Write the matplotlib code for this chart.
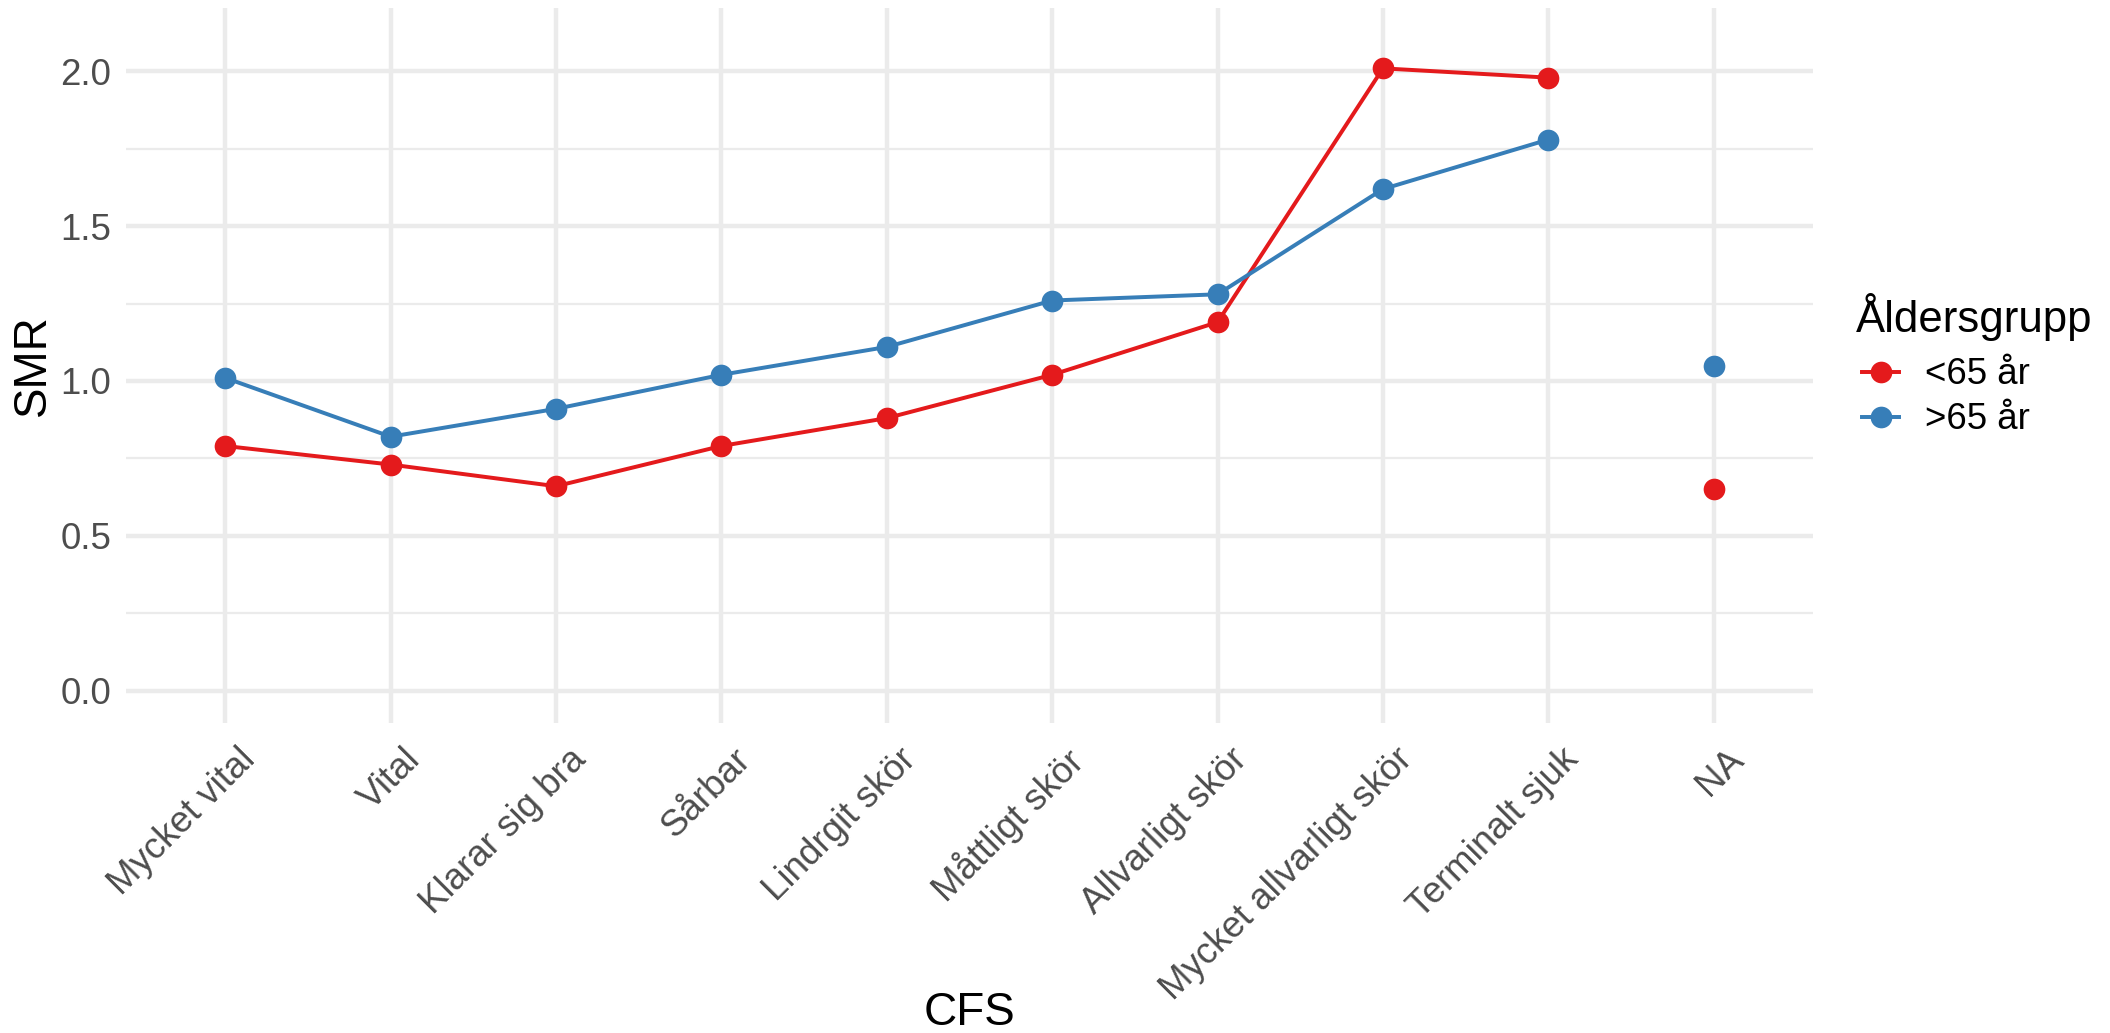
import matplotlib
matplotlib.use("Agg")
import matplotlib.pyplot as plt
from matplotlib.lines import Line2D
from matplotlib.transforms import ScaledTranslation

plt.rcParams['font.family'] = ['Liberation Sans', 'DejaVu Sans']

# data
categories = ["Mycket vital", "Vital", "Klarar sig bra", "Sårbar", "Lindrgit skör",
              "Måttligt skör", "Allvarligt skör", "Mycket allvarligt skör",
              "Terminalt sjuk", "NA"]
smr_under65 = [0.79, 0.73, 0.66, 0.79, 0.88, 1.02, 1.19, 2.01, 1.98, 0.65]
smr_over65 = [1.01, 0.82, 0.91, 1.02, 1.11, 1.26, 1.28, 1.62, 1.78, 1.05]
groups = ["<65 år", ">65 år"]
colors = ["#E41A1C", "#377EB8"]

W, H = 2110, 1033
dpi = 300
fig = plt.figure(figsize=(W / dpi, H / dpi), dpi=dpi)

# panel position in pixels
left, right, top, bottom = 126, 1813, 8, 723
ax = fig.add_axes([left / W, 1 - bottom / H, (right - left) / W, (bottom - top) / H])

x = list(range(len(categories)))
n_line = len(categories) - 1  # NA is not joined to the line

for vals, col in zip([smr_under65, smr_over65], colors):
    ax.plot(x[:n_line], vals[:n_line], color=col, lw=0.95, zorder=3)
    ax.plot(x, vals, "o", color=col, ms=5.2, mew=0, zorder=4)

ax.set_xlim(-0.6, len(categories) - 1 + 0.6)
ax.set_ylim(-0.105, 2.205)

# grid like theme_minimal
grid = "#EBEBEB"
for yv in [0.25, 0.75, 1.25, 1.75]:
    ax.axhline(yv, color=grid, lw=0.53, zorder=0)
for yv in [0.0, 0.5, 1.0, 1.5, 2.0]:
    ax.axhline(yv, color=grid, lw=1.07, zorder=0)
for xv in x:
    ax.axvline(xv, color=grid, lw=1.07, zorder=0)

for s in ax.spines.values():
    s.set_visible(False)

ax.set_yticks([0.0, 0.5, 1.0, 1.5, 2.0])
ax.set_yticklabels(["0.0", "0.5", "1.0", "1.5", "2.0"])
ax.set_xticks(x)
ax.set_xticklabels(categories, rotation=45, ha="right", va="top", rotation_mode="anchor")
ax.tick_params(length=0, labelsize=8.8, labelcolor="#4D4D4D")
ax.tick_params(axis="y", pad=3.6)
ax.tick_params(axis="x", pad=4.5)
shift = ScaledTranslation(12 / dpi, 0, fig.dpi_scale_trans)
for lbl in ax.get_xticklabels():
    lbl.set_transform(lbl.get_transform() + shift)

fig.text(969.5 / W, 1 - 1025 / H, "CFS", fontsize=11, ha="center", va="baseline")
fig.text(33 / W, 1 - 365 / H, "SMR", fontsize=11, ha="center", va="center", rotation=90)

# legend drawn by hand (pixel positions from the reference)
fig.text(1856 / W, 1 - 332 / H, "Åldersgrupp", fontsize=10.5, ha="left", va="baseline")
row_y = [372, 417]
for lab, col, ry in zip(groups, colors, row_y):
    fy = 1 - ry / H
    fig.add_artist(Line2D([1862 / W, 1899 / W], [fy, fy], color=col, lw=0.95,
                          transform=fig.transFigure))
    fig.add_artist(Line2D([1880.5 / W], [fy], color=col, marker="o", ms=5.2, mew=0,
                          transform=fig.transFigure))
    fig.text(1925 / W, 1 - (ry + 12) / H, lab, fontsize=8.8, ha="left", va="baseline")

fig.savefig("out.png", dpi=dpi)
